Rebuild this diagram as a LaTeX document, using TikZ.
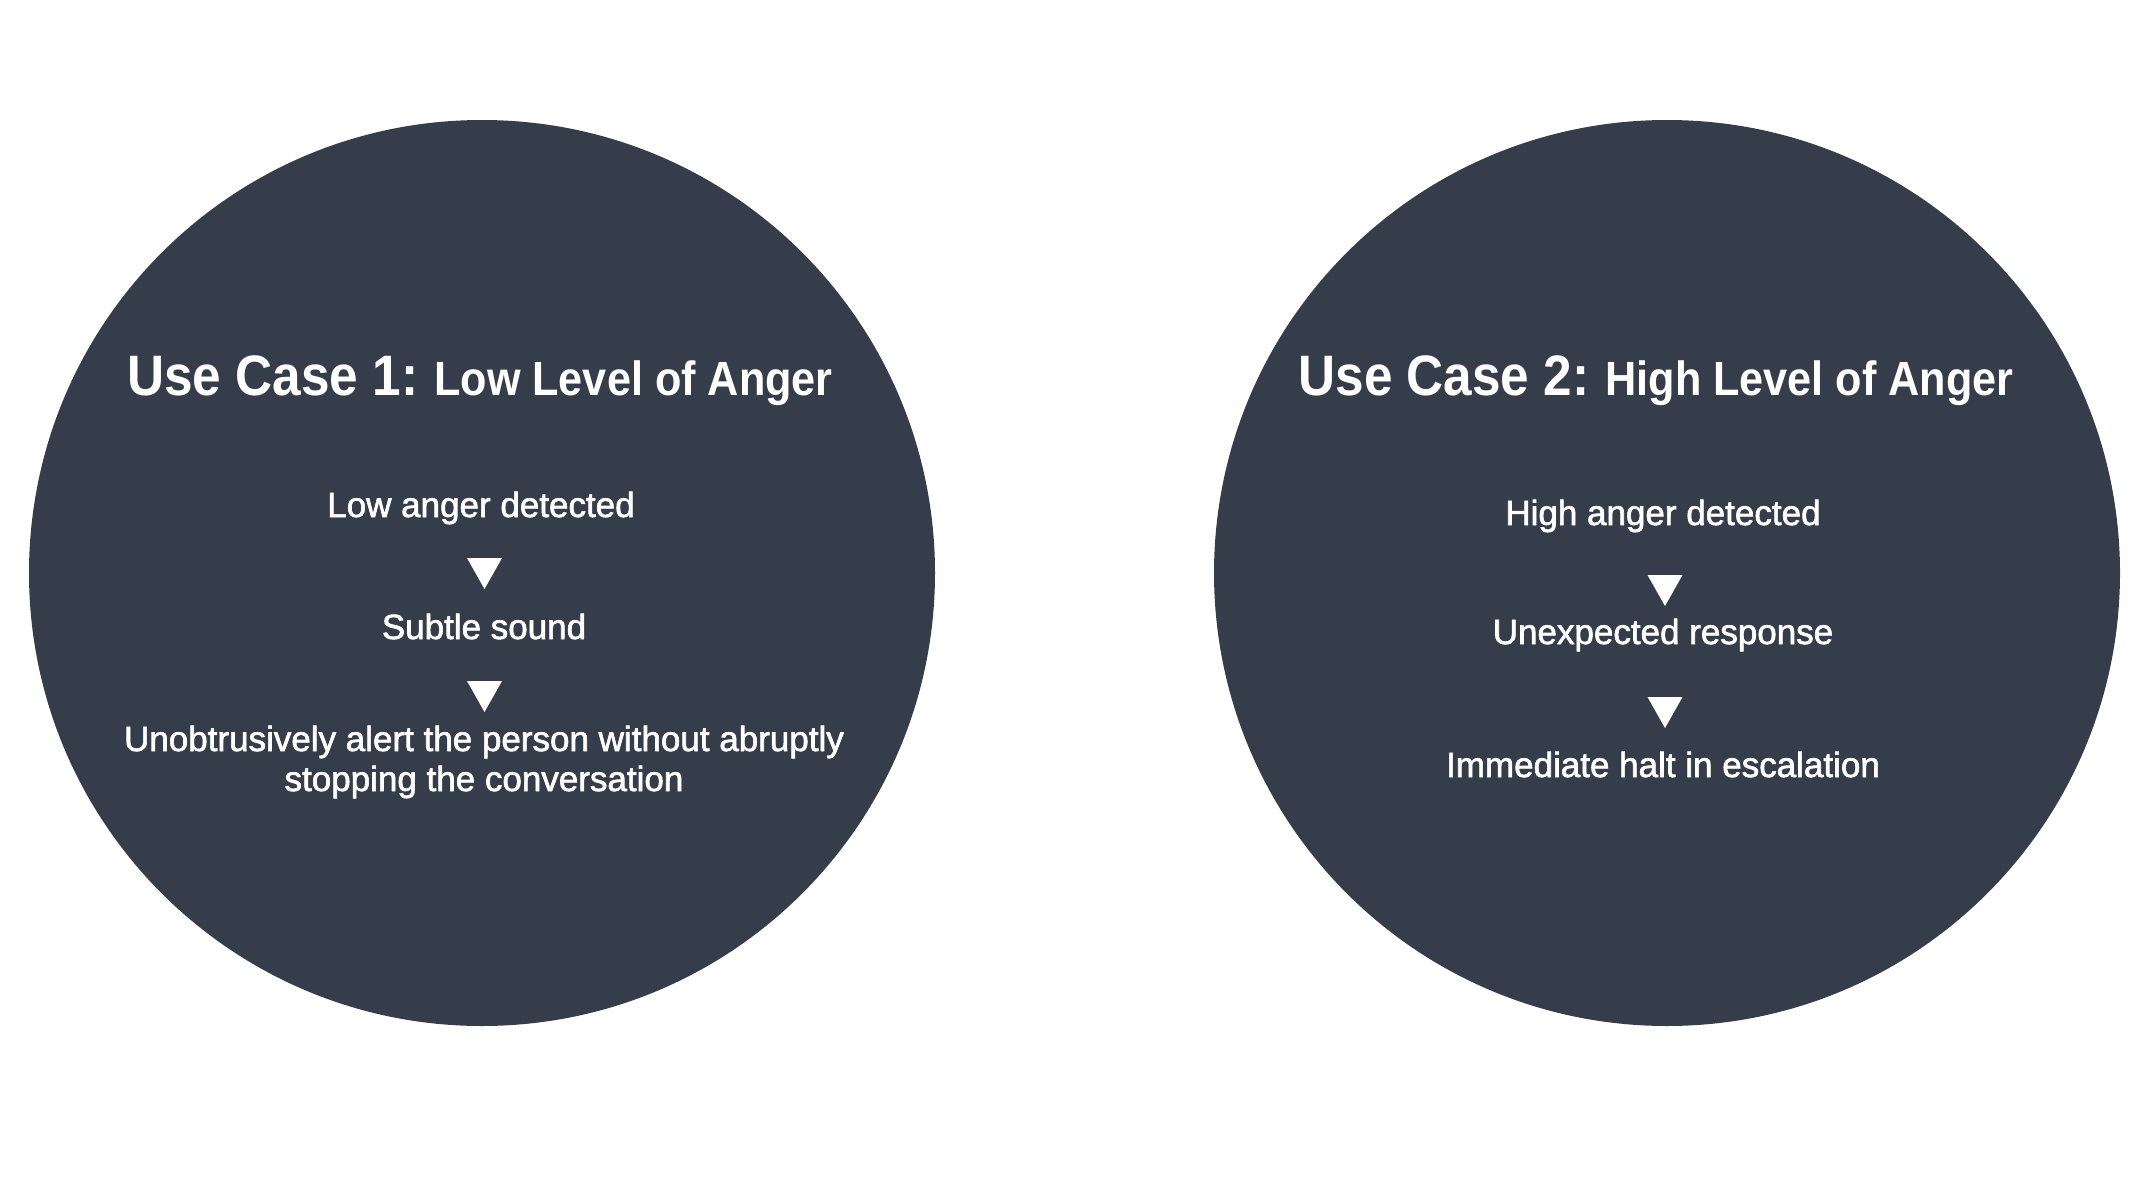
\documentclass[tikz,border=0pt]{standalone}
\usepackage{fontspec}
\setmainfont{Liberation Sans}
\newfontfamily\bodyfont{Liberation Sans}[FakeBold=1.8]
\newfontfamily\titlefont{Liberation Sans}[FakeStretch=0.9]
\definecolor{slate}{HTML}{363D4A}

\begin{document}
\begin{tikzpicture}[x=1pt, y=-1pt,
    casetitle/.style={text=white, anchor=base, inner sep=0pt, font=\titlefont\bfseries},
    stage/.style={text=white, anchor=base, inner sep=0pt, align=center,
        font=\bodyfont\fontsize{35}{40}\selectfont}]
\useasboundingbox[fill=white] (0,0) rectangle (2146,1180);
\fill[slate] (482,573) circle (453pt);
\fill[slate] (1667,573) circle (453pt);
% use case 1
\node[casetitle] (title1) at (480,395) {\fontsize{57}{60}\selectfont Use Case 1:\kern-3pt{} \fontsize{48}{50}\selectfont Low Level of Anger};
\node[stage] (low) at (481,517) {Low anger detected};
\node[stage] (subtle) at (484,639) {Subtle sound};
\node[stage] (alert) at (484,791) {Unobtrusively alert the person without abruptly\\stopping the conversation};
% use case 2
\node[casetitle] (title2) at (1656,395) {\fontsize{57}{60}\selectfont Use Case 2:\kern-3pt{} \fontsize{48}{50}\selectfont High Level of Anger};
\node[stage] (high) at (1663,525) {High anger detected};
\node[stage] (unexpected) at (1663,644) {Unexpected response};
\node[stage] (halt) at (1663,777) {Immediate halt in escalation};
% arrows between stages
\foreach \px/\py in {484.5/558, 484.5/681, 1665/575, 1665/697}
    \fill[white] (\px-17.5,\py) -- (\px+17.5,\py) -- (\px,\py+31) -- cycle;
\end{tikzpicture}
\end{document}
